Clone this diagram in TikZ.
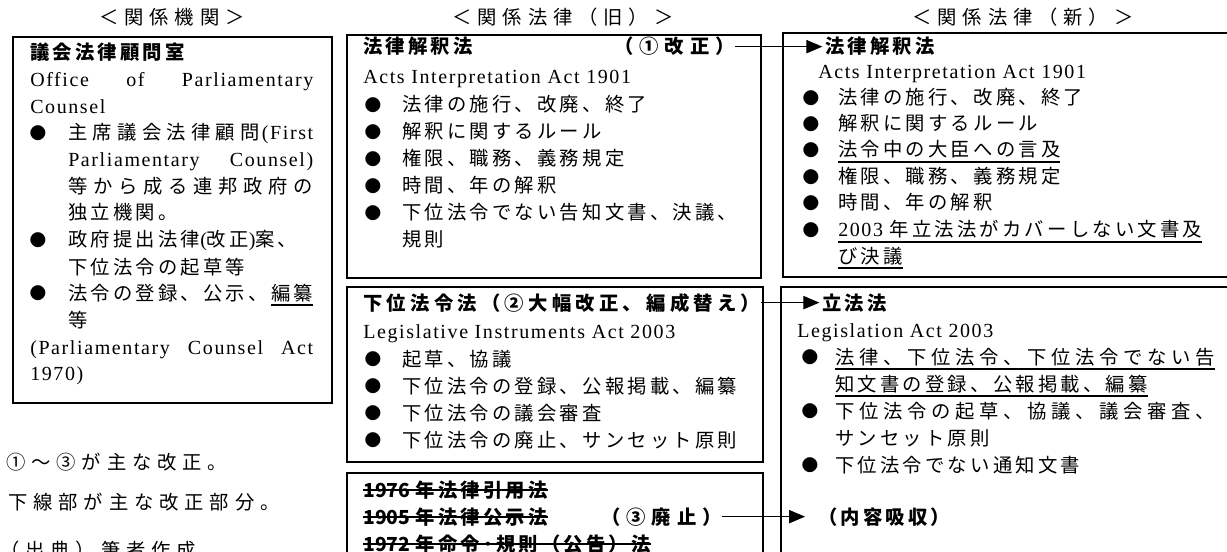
\documentclass[tikz,border=0pt]{standalone}
\usepackage{fontspec}
\setmainfont{Noto Sans CJK JP}
\newfontfamily\enfont{Liberation Serif}[LetterSpace=8]
\usetikzlibrary{arrows.meta,fit}
% inter-character spacing for CJK characters (grid-like spacing, stretchable)
\newdimen\cjkgap \cjkgap=2.4pt
\chardef\cjkcls=100
\newcount\cjkc
\def\setcls#1#2{\cjkc=#1\relax\loop\XeTeXcharclass\cjkc=\cjkcls\relax\ifnum\cjkc<#2\advance\cjkc by 1\repeat}
\setcls{"3000}{"30FF}
\setcls{"4E00}{"9FFF}
\setcls{"FF00}{"FFEF}
\setcls{"2460}{"24FF}
\XeTeXinterchartoks\cjkcls\cjkcls={\hskip\cjkgap plus 1fil\relax}
\XeTeXinterchartokenstate=1
\newcommand\fsz{\fontsize{14.5pt}{17pt}\selectfont}
\newcommand\wgap{\cjkgap=4.4pt\relax}
\newcommand\en[1]{{\enfont\fontsize{15pt}{17pt}\selectfont #1}}
\newcommand\spr[2]{\makebox[#1][s]{#2}}
\newcommand\uln[1]{\setbox0=\hbox{#1}\rlap{\rule[-4.2pt]{\wd0}{1.4pt}}\box0}
\newcommand\stk[1]{\setbox0=\hbox{#1}\rlap{\rule[4.6pt]{\wd0}{1.1pt}}\box0}
\begin{document}
\begin{tikzpicture}[x=0.75pt,y=-0.75pt,
  box/.style={draw, line width=1.1pt, inner sep=0pt},
  t/.style={inner sep=0pt, anchor=base west, font=\fsz},
  tb/.style={inner sep=0pt, anchor=base west, font=\fsz\bfseries},
  tc/.style={inner sep=0pt, anchor=base, font=\fsz},
  teb/.style={inner sep=0pt, anchor=base east, font=\fsz\bfseries},
  bul/.style={inner sep=0pt, anchor=center, font=\fontsize{12.5pt}{14pt}\selectfont},
  arr/.style={draw, line width=0.8pt, -{Triangle[length=12pt,width=10pt]}}]
\path[use as bounding box] (0,0) rectangle (1227,552);
\clip (0,0) rectangle (1227,552);

% titles
\node[tc] (tiL) at (172,25) {\wgap ＜関係機関＞};
\node[tc] (tiM) at (563,25) {\wgap ＜関係法律（旧）＞};
\node[tc] (tiR) at (1023,25) {\wgap ＜関係法律（新）＞};

% boxes
\node[box, fit={(13,37) (332,403)}] (bxL) {};
\node[box, fit={(347,35) (761,278)}] (bxM1) {};
\node[box, fit={(347,287) (763,462)}] (bxM2) {};
\node[box, fit={(347,473) (763,575)}] (bxM3) {};
\node[box, fit={(783,33) (1240,277)}] (bxR1) {};
\node[box, fit={(781,287) (1240,575)}] (bxR2) {};

% left box
\node[tb] (L1) at (30,60) {議会法律顧問室};
\node[t] (L2) at (30,87) {\en{\makebox[212.25pt][s]{Office\hfill of\hfill Parliamentary}}};
\node[t] (L3) at (30,114) {\en{Counsel}};
\node[bul] (Lb1) at (38,133) {●};
\node[t] (L4) at (68,140) {\spr{183.75pt}{主席議会法律顧問\hfil\en{(First}}};
\node[t] (L5) at (68,167) {\en{\makebox[183.75pt][s]{Parliamentary\hfill Counsel)}}};
\node[t] (L6) at (68,194) {\spr{183.75pt}{等から成る連邦政府の}};
\node[t] (L7) at (68,220) {独立機関。};
\node[bul] (Lb2) at (38,240) {●};
\node[t] (L8) at (68,247) {政府提出法律\en{(}改正\en{)}案、};
\node[t] (L9) at (68,274) {下位法令の起草等};
\node[bul] (Lb3) at (38,293) {●};
\node[t] (L10) at (68,300) {法令の登録、公示、\hskip\cjkgap\uln{編纂}};
\node[t] (L11) at (68,327) {等};
\node[t] (L12) at (30,354) {\en{\makebox[212.25pt][s]{(Parliamentary\hfill Counsel\hfill Act}}};
\node[t] (L13) at (30,380) {\en{1970)}};

% middle box 1
\node[tb] (M1) at (363,54) {法律解釈法};
\node[teb] (M1t) at (735,54) {\wgap （①改正）};
\node[t] (M2) at (363,84) {\en{Acts Interpretation Act 1901}};
\node[bul] (Mb1) at (373,105) {●};
\node[t] (M3) at (402,112) {法律の施行、改廃、終了};
\node[bul] (Mb2) at (373,132) {●};
\node[t] (M4) at (402,139) {解釈に関するルール};
\node[bul] (Mb3) at (373,159) {●};
\node[t] (M5) at (402,166) {権限、職務、義務規定};
\node[bul] (Mb4) at (373,186) {●};
\node[t] (M6) at (402,193) {時間、年の解釈};
\node[bul] (Mb5) at (373,213) {●};
\node[t] (M7) at (402,220) {下位法令でない告知文書、決議、};
\node[t] (M8) at (402,247) {規則};

% middle box 2
\node[tb] (N1) at (363,310) {\spr{297.75pt}{下位法令法（②大幅改正、編成替え）}};
\node[t] (N2) at (363,338) {\en{Legislative Instruments Act 2003}};
\node[bul] (Nb1) at (373,359) {●};
\node[t] (N3) at (402,366) {起草、協議};
\node[bul] (Nb2) at (373,386) {●};
\node[t] (N4) at (402,393) {下位法令の登録、公報掲載、編纂};
\node[bul] (Nb3) at (373,413) {●};
\node[t] (N5) at (402,420) {下位法令の議会審査};
\node[bul] (Nb4) at (373,440) {●};
\node[t] (N6) at (402,447) {下位法令の廃止、サンセット原則};

% middle box 3
\node[tb] (P1) at (363,497) {\stk{1976\hskip4pt 年法律引用法}};
\node[tb] (P2) at (363,524) {\stk{1905\hskip4pt 年法律公示法}};
\node[teb] (P2t) at (722,524) {\wgap （③廃止）};
\node[tb] (P3) at (363,551) {\stk{1972\hskip4pt 年命令･規則（公告）法}};

% right box 1
\node[tb] (R1) at (825,54) {法律解釈法};
\node[t] (R2) at (818,79) {\en{Acts Interpretation Act 1901}};
\node[bul] (Rb1) at (811,98) {●};
\node[t] (R3) at (838,105) {法律の施行、改廃、終了};
\node[bul] (Rb2) at (811,124) {●};
\node[t] (R4) at (838,131) {解釈に関するルール};
\node[bul] (Rb3) at (811,150) {●};
\node[t] (R5) at (838,157) {\uln{法令中の大臣への言及}};
\node[bul] (Rb4) at (811,177) {●};
\node[t] (R6) at (838,184) {権限、職務、義務規定};
\node[bul] (Rb5) at (811,203) {●};
\node[t] (R7) at (838,210) {時間、年の解釈};
\node[bul] (Rb6) at (811,230) {●};
\node[t] (R8) at (838,237) {\uln{\en{2003}\hskip5pt 年立法法がカバーしない文書及}};
\node[t] (R9) at (838,263) {\uln{び決議}};

% right box 2
\node[tb] (S1) at (822,310) {立法法};
\node[t] (S2) at (797,337) {\en{Legislation Act 2003}};
\node[bul] (Sb1) at (810,357) {●};
\node[t] (S3) at (835,364) {\uln{\spr{285pt}{法律、下位法令、下位法令でない告}}};
\node[t] (S4) at (835,391) {\uln{知文書の登録、公報掲載、編纂}};
\node[bul] (Sb2) at (810,411) {●};
\node[t] (S5) at (835,418) {\spr{285pt}{下位法令の起草、協議、議会審査、}};
\node[t] (S6) at (835,445) {サンセット原則};
\node[bul] (Sb3) at (810,465) {●};
\node[t] (S7) at (835,472) {下位法令でない通知文書};
\node[tb] (S8) at (818,524) {（内容吸収）};

% notes
\node[t] (K1) at (6,469) {\wgap ①～③が主な改正。};
\node[t] (K2) at (8,509) {\wgap 下線部が主な改正部分。};
\node[t] (K3) at (0,557) {\wgap （出典）筆者作成};

% connectors
\draw[arr, shorten >=2pt] (M1t.east) -- (M1t.east -| R1.west);
\draw[arr, shorten >=2pt] (N1.east) -- (N1.east -| S1.west);
\draw[arr, shorten >=9.75pt] (P2t.east) -- (P2t.east -| S8.west);
\end{tikzpicture}
\end{document}
